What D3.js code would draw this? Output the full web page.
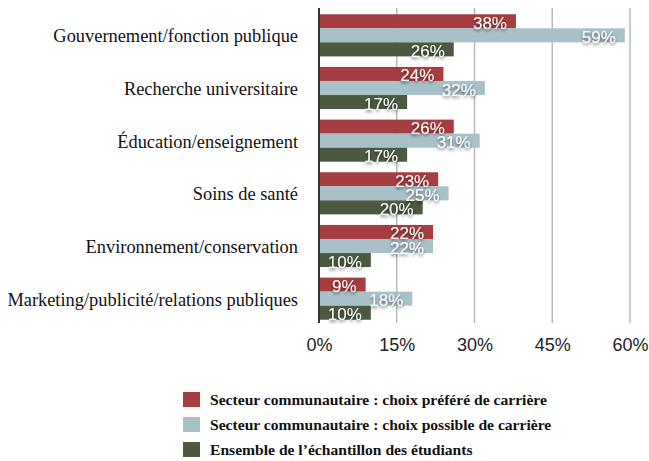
<!DOCTYPE html>
<html>
<head>
<meta charset="utf-8">
<script src="https://cdn.jsdelivr.net/npm/d3@7"></script>
<style>
  body { margin: 0; background: #fff; }
  svg { display: block; }
</style>
</head>
<body>
<script>
var categories = [
  "Gouvernement/fonction publique",
  "Recherche universitaire",
  "Éducation/enseignement",
  "Soins de santé",
  "Environnement/conservation",
  "Marketing/publicité/relations publiques"
];
var seriesNames = [
  "Secteur communautaire : choix préféré de carrière",
  "Secteur communautaire : choix possible de carrière",
  "Ensemble de l’échantillon des étudiants"
];
var preferred = [38, 24, 26, 23, 22, 9];
var possible = [59, 32, 31, 25, 22, 18];
var overall = [26, 17, 17, 20, 10, 10];
var ticks = [0, 15, 30, 45, 60];
var colors = ["#a63e41", "#a8c1c8", "#4b5a41"];

var w = 649, h = 461;
var plotLeft = 319, plotRight = 630, plotTop = 8, plotBottom = 323;

var svg = d3.select("body").append("svg")
  .attr("width", w)
  .attr("height", h);

var defs = svg.append("defs");
var f = defs.append("filter").attr("id", "shadow")
  .attr("x", "-20%").attr("y", "-30%").attr("width", "140%").attr("height", "170%");
f.append("feDropShadow")
  .attr("dx", 0).attr("dy", 2).attr("stdDeviation", 1.6)
  .attr("flood-color", "#000").attr("flood-opacity", 0.55);

var xScale = d3.scaleLinear().domain([0, 60]).range([plotLeft, plotRight]);
var yScale = d3.scaleBand().domain(categories).range([plotTop + 1, plotBottom + 2])
  .paddingInner(0.2).paddingOuter(0.1);
var sub = d3.scaleBand().domain([0, 1, 2]).range([0, yScale.bandwidth()]);

// gridlines
svg.append("g").selectAll("line")
  .data(ticks.slice(1))
  .enter().append("line")
  .attr("x1", d => xScale(d)).attr("x2", d => xScale(d))
  .attr("y1", plotTop).attr("y2", plotBottom)
  .attr("stroke", "#b8b8b8").attr("stroke-width", 1.5);

// x axis labels
var xAxis = d3.axisBottom(xScale).tickValues(ticks).tickSize(0).tickPadding(0)
  .tickFormat(d => d + "%");
var gx = svg.append("g")
  .attr("transform", `translate(0, ${plotBottom + 15})`)
  .call(xAxis);
gx.select(".domain").remove();
gx.selectAll("text")
  .attr("fill", "#222")
  .style("font-family", "'Liberation Sans', Arial, sans-serif")
  .style("font-size", "18px");

var rows = categories.map((c, i) => ({ cat: c, vals: [preferred[i], possible[i], overall[i]] }));

var groups = svg.selectAll(".grp")
  .data(rows)
  .enter().append("g")
  .attr("class", "grp")
  .attr("transform", d => `translate(0, ${yScale(d.cat)})`);

groups.selectAll("rect")
  .data(d => d.vals)
  .enter().append("rect")
  .attr("x", plotLeft)
  .attr("y", (d, i) => sub(i))
  .attr("width", d => xScale(d) - plotLeft)
  .attr("height", sub.bandwidth())
  .attr("fill", (d, i) => colors[i]);

groups.selectAll(".lbl")
  .data(d => d.vals)
  .enter().append("text")
  .attr("class", "lbl")
  .attr("x", d => xScale(d) - 9)
  .attr("y", (d, i) => sub(i) + sub.bandwidth() + 0.5)
  .attr("text-anchor", "end")
  .attr("fill", "#fff")
  .attr("filter", "url(#shadow)")
  .style("font-family", "'Liberation Sans', Arial, sans-serif")
  .style("font-size", "17px")
  .text(d => d + "%");

// category labels
var yAxis = d3.axisLeft(yScale).tickSize(0).tickPadding(21);
var gy = svg.append("g")
  .attr("transform", `translate(${plotLeft}, 1)`)
  .call(yAxis);
gy.select(".domain").remove();
gy.selectAll("text")
  .attr("fill", "#111")
  .style("font-family", "'Liberation Serif', 'DejaVu Serif', serif")
  .style("font-size", "18.4px");

// axis line
svg.append("line")
  .attr("x1", plotLeft).attr("x2", plotLeft)
  .attr("y1", plotTop).attr("y2", plotBottom)
  .attr("stroke", "#333").attr("stroke-width", 2);

// legend
var legend = svg.append("g").attr("transform", "translate(183, 392)");
var items = legend.selectAll("g")
  .data(seriesNames)
  .enter().append("g")
  .attr("transform", (d, i) => `translate(0, ${i * 25})`);
items.append("rect")
  .attr("width", 17).attr("height", 15)
  .attr("fill", (d, i) => colors[i]);
items.append("text")
  .attr("x", 27).attr("y", 12.5)
  .attr("fill", "#111")
  .style("font-family", "'Liberation Serif', 'DejaVu Serif', serif")
  .style("font-weight", "bold")
  .style("font-size", "15.6px")
  .text(d => d);
</script>
</body>
</html>
